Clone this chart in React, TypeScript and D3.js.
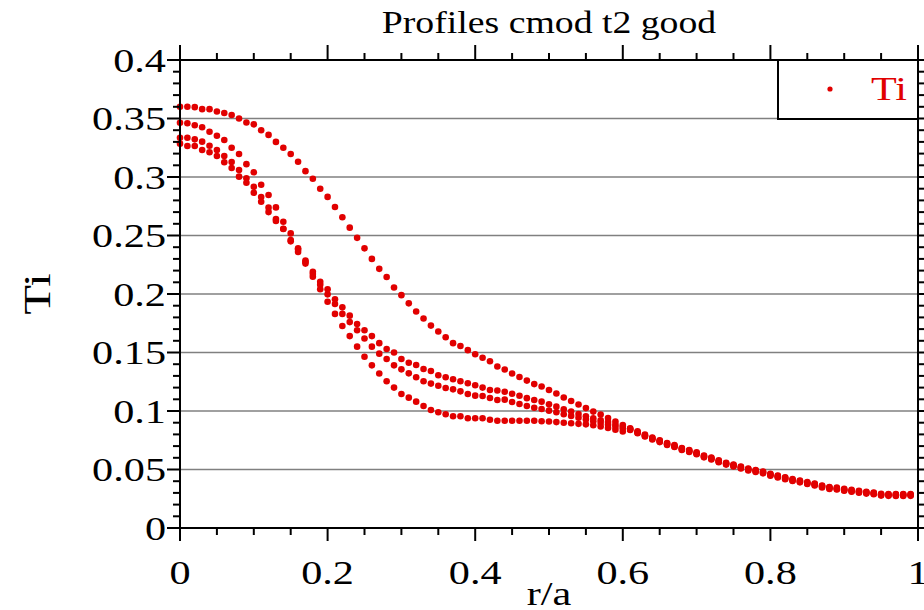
import React from "react";
import * as d3 from "d3";

const rho: number[] = [
  0, 0.01, 0.02, 0.03, 0.04, 0.05, 0.06, 0.07, 0.08, 0.09,
  0.1, 0.11, 0.12, 0.13, 0.14, 0.15, 0.16, 0.17, 0.18, 0.19,
  0.2, 0.21, 0.22, 0.23, 0.24, 0.25, 0.26, 0.27, 0.28, 0.29,
  0.3, 0.31, 0.32, 0.33, 0.34, 0.35, 0.36, 0.37, 0.38, 0.39,
  0.4, 0.41, 0.42, 0.43, 0.44, 0.45, 0.46, 0.47, 0.48, 0.49,
  0.5, 0.51, 0.52, 0.53, 0.54, 0.55, 0.56, 0.57, 0.58, 0.59,
  0.6, 0.61, 0.62, 0.63, 0.64, 0.65, 0.66, 0.67, 0.68, 0.69,
  0.7, 0.71, 0.72, 0.73, 0.74, 0.75, 0.76, 0.77, 0.78, 0.79,
  0.8, 0.81, 0.82, 0.83, 0.84, 0.85, 0.86, 0.87, 0.88, 0.89,
  0.9, 0.91, 0.92, 0.93, 0.94, 0.95, 0.96, 0.97, 0.98, 0.99,
];

const tiA: number[] = [
  0.360, 0.360, 0.3597, 0.358, 0.358, 0.356, 0.3547, 0.353, 0.350, 0.3466,
  0.345, 0.340, 0.336, 0.330, 0.325, 0.3197, 0.313, 0.305, 0.2985, 0.290,
  0.283, 0.2744, 0.2656, 0.2567, 0.248, 0.239, 0.230, 0.2215, 0.2145, 0.2055,
  0.199, 0.192, 0.185, 0.179, 0.173, 0.168, 0.163, 0.158, 0.1555, 0.152,
  0.1485, 0.1455, 0.1425, 0.138, 0.1355, 0.132, 0.129, 0.126, 0.123, 0.121,
  0.118, 0.115, 0.1115, 0.1085, 0.1055, 0.1025, 0.0995, 0.097, 0.094, 0.091,
  0.088, 0.0853, 0.0826, 0.0798, 0.0773, 0.0750, 0.0726, 0.0708, 0.0683, 0.0666,
  0.0646, 0.0620, 0.0602, 0.0578, 0.0558, 0.0542, 0.0525, 0.0508, 0.0495, 0.0483,
  0.0463, 0.0448, 0.0433, 0.0418, 0.0406, 0.0392, 0.0380, 0.0363, 0.0350, 0.0345,
  0.0334, 0.0326, 0.0318, 0.0310, 0.0304, 0.0293, 0.0291, 0.0290, 0.0290, 0.0291,
];

const tiB: number[] = [
  0.3464, 0.3459, 0.3442, 0.3425, 0.3387, 0.3353, 0.3316, 0.325, 0.3197, 0.311,
  0.304, 0.2934, 0.2846, 0.274, 0.2618, 0.2518, 0.239, 0.2285, 0.219, 0.2105,
  0.204, 0.1955, 0.1886, 0.1815, 0.1744, 0.169, 0.164, 0.158, 0.153, 0.150,
  0.1444, 0.1413, 0.1393, 0.1359, 0.1342, 0.1305, 0.1288, 0.1271, 0.1254, 0.1237,
  0.122, 0.120, 0.118, 0.1175, 0.1165, 0.1148, 0.113, 0.111, 0.1094, 0.108,
  0.1057, 0.1037, 0.1014, 0.0995, 0.0975, 0.0955, 0.0937, 0.0920, 0.0905, 0.0885,
  0.0865, 0.0848, 0.0821, 0.0793, 0.0768, 0.0745, 0.0721, 0.0703, 0.0678, 0.0661,
  0.0641, 0.0615, 0.0597, 0.0573, 0.0553, 0.0537, 0.0520, 0.0503, 0.0490, 0.0478,
  0.0458, 0.0443, 0.0428, 0.0413, 0.0401, 0.0387, 0.0375, 0.0358, 0.0345, 0.0340,
  0.0329, 0.0321, 0.0313, 0.0305, 0.0299, 0.0288, 0.0286, 0.0285, 0.0285, 0.0286,
];

const tiC: number[] = [
  0.3336, 0.3336, 0.3322, 0.3302, 0.3267, 0.3231, 0.318, 0.3128, 0.306, 0.2989,
  0.2917, 0.2829, 0.2738, 0.2641, 0.2558, 0.2462, 0.238, 0.2276, 0.217, 0.208,
  0.1997, 0.1915, 0.183, 0.176, 0.169, 0.162, 0.155, 0.149, 0.1444, 0.139,
  0.1356, 0.1322, 0.1288, 0.1254, 0.1234, 0.1216, 0.1197, 0.1185, 0.1168, 0.1145,
  0.1131, 0.1128, 0.1111, 0.1094, 0.1097, 0.1077, 0.106, 0.1043, 0.1028, 0.1017,
  0.1003, 0.0989, 0.0972, 0.0957, 0.0942, 0.0927, 0.0912, 0.0897, 0.0882, 0.0866,
  0.0850, 0.0842, 0.0815, 0.0787, 0.0762, 0.0739, 0.0715, 0.0697, 0.0672, 0.0655,
  0.0635, 0.0609, 0.0591, 0.0567, 0.0547, 0.0531, 0.0514, 0.0497, 0.0484, 0.0472,
  0.0452, 0.0437, 0.0422, 0.0407, 0.0395, 0.0381, 0.0369, 0.0352, 0.0339, 0.0334,
  0.0323, 0.0315, 0.0307, 0.0299, 0.0293, 0.0282, 0.0280, 0.0279, 0.0279, 0.0280,
];

const tiD: number[] = [
  0.3285, 0.3265, 0.3265, 0.3231, 0.3211, 0.318, 0.3126, 0.3077, 0.3003, 0.2951,
  0.2866, 0.2789, 0.270, 0.2625, 0.2556, 0.245, 0.236, 0.226, 0.2148, 0.204,
  0.1934, 0.183, 0.1726, 0.164, 0.155, 0.1464, 0.139, 0.132, 0.1254, 0.120,
  0.1145, 0.1114, 0.108, 0.1043, 0.1009, 0.0989, 0.0972, 0.0955, 0.0955, 0.0938,
  0.0938, 0.0938, 0.0925, 0.0917, 0.0917, 0.0917, 0.0917, 0.0917, 0.0917, 0.0912,
  0.0910, 0.0905, 0.0900, 0.0895, 0.0890, 0.0886, 0.0878, 0.0868, 0.0855, 0.0840,
  0.0825, 0.0837, 0.0810, 0.0782, 0.0757, 0.0734, 0.0710, 0.0692, 0.0667, 0.0650,
  0.0630, 0.0604, 0.0586, 0.0562, 0.0542, 0.0526, 0.0509, 0.0492, 0.0479, 0.0467,
  0.0447, 0.0432, 0.0417, 0.0402, 0.0390, 0.0376, 0.0364, 0.0347, 0.0334, 0.0329,
  0.0318, 0.0310, 0.0302, 0.0294, 0.0288, 0.0277, 0.0275, 0.0274, 0.0274, 0.0275,
];

const profiles: number[][] = [tiA, tiB, tiC, tiD];

const xTicks: number[] = [0, 0.2, 0.4, 0.6, 0.8, 1];
const xTickLabels: string[] = ["0", "0.2", "0.4", "0.6", "0.8", "1"];
const yTicks: number[] = [0, 0.05, 0.1, 0.15, 0.2, 0.25, 0.3, 0.35, 0.4];
const yTickLabels: string[] = ["0", "0.05", "0.1", "0.15", "0.2", "0.25", "0.3", "0.35", "0.4"];

const titleText = "Profiles cmod t2 good";
const xLabel = "r/a";
const yLabel = "Ti";
const legendLabel = "Ti";

const W = 924;
const H = 610;
const L = 180;
const R = 918;
const T = 60;
const B = 528;
const RED = "#e10000";
const FONT = "'Liberation Serif', 'Times New Roman', serif";
const SX = 1.28;
const FS = 33;

function SText(props: { x: number; y: number; anchor?: string; size?: number; sx?: number; fill?: string; rotate?: number; children: React.ReactNode }) {
  const { x, y, anchor = "start", size = FS, sx = SX, fill = "#000", rotate = 0, children } = props;
  const tf = rotate
    ? `translate(${x},${y}) rotate(${rotate}) scale(${sx},1)`
    : `translate(${x},${y}) scale(${sx},1)`;
  return (
    <text transform={tf} textAnchor={anchor} fontFamily={FONT} fontSize={size} fill={fill}>
      {children}
    </text>
  );
}

export default function App() {
  const x = d3.scaleLinear().domain([0, 1]).range([L, R]);
  const y = d3.scaleLinear().domain([0, 0.4]).range([B, T]);
  const xMinor = d3.range(0, 1.0001, 0.05).filter((v) => Math.abs(v / 0.2 - Math.round(v / 0.2)) > 1e-6);
  const yMinor = d3.range(0, 0.4001, 0.01).filter((v) => Math.abs(v / 0.05 - Math.round(v / 0.05)) > 1e-6);

  return (
    <svg width={W} height={H} style={{ position: "absolute", left: 0, top: 0, background: "#fff" }}>
      <rect x={0} y={0} width={W} height={H} fill="#fff" />
      {yTicks.slice(1, -1).map((t) => (
        <line key={"g" + t} x1={L} x2={R} y1={y(t)} y2={y(t)} stroke="#808080" strokeWidth={1.6} />
      ))}
      {profiles.map((prof, k) => (
        <g key={"p" + k}>
          {prof.map((v, i) => (
            <circle key={i} cx={x(rho[i])} cy={y(v)} r={3.3} fill={RED} />
          ))}
        </g>
      ))}
      <rect x={778} y={T} width={R - 778} height={59} fill="#fff" stroke="#000" strokeWidth={2} />
      <circle cx={830} cy={89} r={2.6} fill={RED} />
      <SText x={871} y={100} fill={RED}>{legendLabel}</SText>
      <rect x={L} y={T} width={R - L} height={B - T} fill="none" stroke="#000" strokeWidth={2} />
      {yTicks.map((t) => (
        <g key={"yt" + t}>
          <line x1={L - 13} x2={L} y1={y(t)} y2={y(t)} stroke="#000" strokeWidth={2} />
          <line x1={R} x2={R + 13} y1={y(t)} y2={y(t)} stroke="#000" strokeWidth={2} />
        </g>
      ))}
      {yMinor.map((t) => (
        <g key={"ym" + t}>
          <line x1={L - 7} x2={L} y1={y(t)} y2={y(t)} stroke="#000" strokeWidth={2} />
          <line x1={R} x2={R + 7} y1={y(t)} y2={y(t)} stroke="#000" strokeWidth={2} />
        </g>
      ))}
      {xTicks.map((t) => (
        <g key={"xt" + t}>
          <line x1={x(t)} x2={x(t)} y1={B} y2={B + 13} stroke="#000" strokeWidth={2} />
          <line x1={x(t)} x2={x(t)} y1={T - 15} y2={T} stroke="#000" strokeWidth={2} />
        </g>
      ))}
      {xMinor.map((t) => (
        <g key={"xm" + t}>
          <line x1={x(t)} x2={x(t)} y1={B} y2={B + 7} stroke="#000" strokeWidth={2} />
          <line x1={x(t)} x2={x(t)} y1={T - 7} y2={T} stroke="#000" strokeWidth={2} />
        </g>
      ))}
      {yTicks.map((t, i) => (
        <SText key={"yl" + t} x={166} y={y(t) + 11.5} anchor="end">{yTickLabels[i]}</SText>
      ))}
      {xTicks.map((t, i) => (
        <SText key={"xl" + t} x={x(t)} y={584} anchor="middle">{xTickLabels[i]}</SText>
      ))}
      <SText x={549} y={33} anchor="middle" size={32} sx={1.18}>{titleText}</SText>
      <SText x={549} y={605} anchor="middle">{xLabel}</SText>
      <SText x={50} y={294} anchor="middle" size={38} rotate={-90}>{yLabel}</SText>
    </svg>
  );
}
